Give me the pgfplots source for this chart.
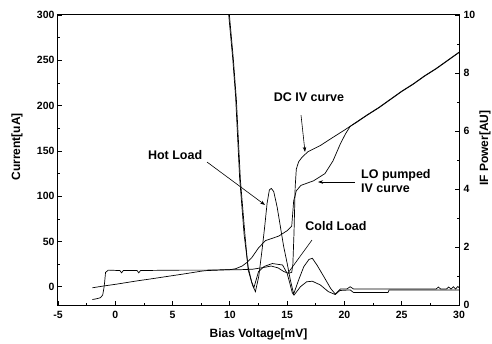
\documentclass[border=0pt]{standalone}
\usepackage{pgfplots}
\pgfplotsset{compat=1.18}
\usepackage{fontspec}
\setmainfont{Liberation Sans}
\usetikzlibrary{arrows.meta}
\begin{document}
\begin{tikzpicture}
\path[use as bounding box] (-58pt,-38pt) rectangle (434pt,305pt);
\pgfplotsset{common/.style={
 scale only axis, width=401pt, height=290pt,
 xmin=-5, xmax=30,
 tick align=inside,
 major tick length=4pt, minor tick length=2pt,
 tick style={black, line width=0.8pt},
 axis line style={line width=1pt},
 tick label style={font=\fontsize{10.5}{12}\selectfont\bfseries},
 /pgf/number format/assume math mode=true,
 label style={font=\fontsize{12}{14}\selectfont\bfseries},
}}
\begin{axis}[common,
 ymin=-20, ymax=300,
 xtick={-5,0,...,30}, minor x tick num=1,
 ytick={0,50,...,300}, minor y tick num=1,
 xtick pos=bottom, ytick pos=left,
 xticklabel style={yshift=-2.5pt},
 xlabel={Bias Voltage[mV]}, ylabel={Current[uA]},
 xlabel style={at={(axis description cs:0.5,-0.103)},anchor=center},
 ylabel style={at={(axis description cs:-0.102,0.545)},anchor=center},
]
% DC IV curve
\addplot[black, line width=0.7pt] coordinates {
(-2.0,-1) (-1,1) (0,2.8) (1,4.8) (2,6.8) (3,8.6) (4,10.5) (5,12.4) (6,14.3) (7,16.3) (7.6,17.5) (8,18) (9,18.5) (10,19) (11,19) (12,19.5) (12.5,20.5) (13,21.5) (13.6,23) (14.2,21) (14.7,17) (15.1,15) (15.4,16) (15.5,25) (15.6,60) (15.7,110) (15.8,130) (16.0,138) (16.3,143) (16.8,149) (17.9,156) (19,165) (20,173) (21,181.5) (22,190) (23,198) (24,207) (25,216) (26,224) (27,233) (28,241) (29,250) (30,259)
};
% LO pumped IV curve
\addplot[black, line width=0.7pt] coordinates {
(-2.0,-14) (-1.6,-13) (-1.3,-12) (-1.1,-9) (-1.0,-2) (-0.93,5) (-0.85,16) (-0.6,18.5) (0.4,18) (0.55,15.5) (0.7,18) (1.9,18) (2.05,15.5) (2.2,18) (4,18.3) (6,18.5) (8,18.5) (10,19) (10.5,20) (11.07,23) (11.5,27) (11.9,32) (12.5,43) (13.1,51) (14.26,56) (15.0,62) (15.4,67) (15.57,95) (15.8,106) (16.2,112) (17.3,117) (18.3,125) (19.0,139) (19.65,158) (20.1,169) (20.5,177) (21,181) (22,189.5) (23,197.5) (24,206.5) (25,215.5) (26,223.5) (27,232.5) (28,240.5) (29,249.5) (30,258.5)
};
\node[font=\fontsize{12.5}{14}\selectfont\bfseries] at (rel axis cs:0.292,0.517) {Hot Load};
\draw[line width=0.6pt,-{Stealth[length=5pt,width=3.5pt]}] (rel axis cs:0.3716,0.493) -- (rel axis cs:0.5162,0.345);
\node[font=\fontsize{12.5}{14}\selectfont\bfseries] at (rel axis cs:0.626,0.717) {DC IV curve};
\draw[line width=0.6pt,-{Stealth[length=5pt,width=3.5pt]}] (rel axis cs:0.606,0.655) -- (rel axis cs:0.616,0.528);
\node[font=\fontsize{12.5}{14}\selectfont\bfseries, align=left, anchor=west, inner sep=0pt] at (rel axis cs:0.7556,0.4276) {LO pumped\\IV curve};
\draw[line width=0.6pt,-{Stealth[length=5pt,width=3.5pt]}] (rel axis cs:0.7406,0.4241) -- (rel axis cs:0.6484,0.4241);
\node[font=\fontsize{12.5}{14}\selectfont\bfseries] at (rel axis cs:0.6933,0.2724) {Cold Load};
\draw[line width=0.6pt] (rel axis cs:0.6334,0.2241) -- (rel axis cs:0.5736,0.1103);
\end{axis}
\begin{axis}[common,
 ymin=0, ymax=10,
 axis y line*=right, axis x line=none,
 ytick={0,2,...,10}, minor y tick num=1,
 yticklabel style={xshift=1pt},
 ylabel={IF Power[AU]},
 ylabel style={at={(axis description cs:1.065,0.541)},anchor=center},
]
% Hot load IF power
\addplot[black, line width=0.7pt] coordinates {
(9.96,10) (10.3,8.5) (10.57,7.07) (10.92,4.31) (11.3,2.5) (11.6,1.21) (11.97,0.69) (12.23,0.46) (12.52,0.98) (12.81,1.90) (13.04,2.70) (13.25,3.51) (13.45,3.97) (13.62,4.02) (13.83,3.91) (14.12,3.39) (14.41,2.70) (14.70,2.01) (15.0,1.44) (15.28,0.86) (15.57,0.38) (16.0,0.86) (16.45,1.32) (16.9,1.57) (17.2,1.61) (17.6,1.38) (18.2,0.98) (18.8,0.57) (19.2,0.38) (19.65,0.55) (20.2,0.55) (20.5,0.63) (20.8,0.55) (22,0.55) (24,0.55) (26,0.55) (28,0.55) (28.2,0.62) (28.4,0.55) (28.9,0.55) (29.1,0.62) (29.3,0.55) (29.5,0.63) (29.7,0.55) (29.9,0.64) (30,0.6)
};
% Cold load IF power
\addplot[black, line width=0.7pt] coordinates {
(9.9,10) (10.25,8.5) (10.5,7.2) (10.85,4.4) (11.25,2.4) (11.6,1.3) (11.9,0.8) (12.1,0.6) (12.5,1.15) (13.0,1.33) (13.7,1.43) (14.6,1.38) (15.0,1.09) (15.2,0.8) (15.45,0.42) (15.6,0.34) (16.16,0.63) (16.7,0.8) (17.2,0.82) (17.9,0.69) (18.6,0.46) (19.2,0.36) (19.6,0.5) (20.5,0.52) (20.8,0.43) (23.8,0.43) (23.9,0.52) (30,0.52)
};
\end{axis}
\end{tikzpicture}
\end{document}
